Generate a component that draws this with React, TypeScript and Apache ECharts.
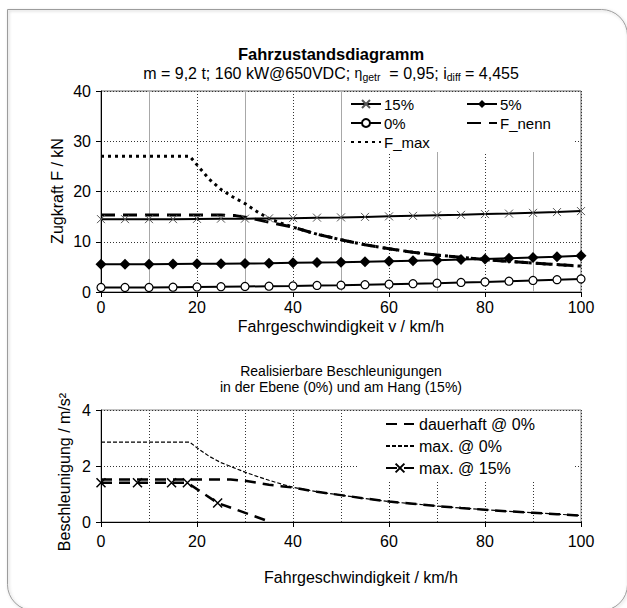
import React, { useEffect, useRef } from "react";
import * as echarts from "echarts";

// ---------- Top chart: Zugkraft (kN) over speed (km/h) ----------
const SPEED = [0, 5, 10, 15, 20, 25, 30, 35, 40, 45, 50, 55, 60, 65, 70, 75, 80, 85, 90, 95, 100];
const F_GRADE15 = [14.5, 14.5, 14.5, 14.5, 14.55, 14.6, 14.6, 14.65, 14.7, 14.8, 14.85, 14.95, 15.05, 15.15, 15.25, 15.35, 15.5, 15.6, 15.75, 15.9, 16.1];
const F_GRADE5 = [5.5, 5.5, 5.5, 5.55, 5.6, 5.6, 5.65, 5.7, 5.8, 5.85, 5.9, 6.0, 6.1, 6.2, 6.3, 6.45, 6.55, 6.7, 6.85, 7.0, 7.2];
const F_GRADE0 = [0.9, 0.9, 0.9, 0.95, 1.0, 1.05, 1.1, 1.15, 1.2, 1.3, 1.35, 1.45, 1.55, 1.65, 1.75, 1.9, 2.0, 2.15, 2.3, 2.45, 2.6];

const F_NENN_V = [0, 5, 10, 15, 20, 25, 28, 30, 32.5, 35, 40, 45, 50, 55, 60, 65, 70, 75, 80, 85, 90, 95, 100];
const F_NENN = [15.3, 15.3, 15.3, 15.3, 15.3, 15.3, 15.2, 14.9, 14.4, 13.9, 12.9, 11.5, 10.4, 9.4, 8.6, 7.9, 7.35, 6.9, 6.45, 6.1, 5.75, 5.45, 5.15];

const F_MAX_V = [0, 5, 10, 15, 18.5, 20, 22.5, 25, 27.5, 30, 32.5, 35, 37.5, 40, 45, 50, 55, 60, 65, 70, 75, 80, 85, 90, 95, 100];
const F_MAX = [27, 27, 27, 27, 27, 25.3, 22.5, 20.4, 18.9, 17.6, 16.0, 14.6, 13.7, 12.9, 11.5, 10.4, 9.4, 8.6, 7.9, 7.35, 6.9, 6.45, 6.1, 5.75, 5.45, 5.15];

// ---------- Bottom chart: Beschleunigung (m/s²) over speed ----------
const DAUER_V = [0, 10, 20, 27, 30, 32.5, 35, 37.5, 40, 45, 50, 55, 60, 65, 70, 75, 80, 85, 90, 95, 100];
const DAUER = [1.52, 1.52, 1.52, 1.52, 1.47, 1.4, 1.33, 1.28, 1.23, 1.08, 0.96, 0.84, 0.73, 0.65, 0.57, 0.5, 0.44, 0.38, 0.33, 0.28, 0.23];

const MAX0_V = [0, 10, 18.5, 20, 22.5, 25, 27.5, 30, 32.5, 35, 37.5, 40, 45, 50, 55, 60, 65, 70, 75, 80, 85, 90, 95, 100];
const MAX0 = [2.85, 2.85, 2.85, 2.65, 2.35, 2.12, 1.95, 1.78, 1.63, 1.49, 1.36, 1.24, 1.08, 0.96, 0.84, 0.73, 0.65, 0.57, 0.5, 0.44, 0.38, 0.33, 0.28, 0.23];

const MAX15_V = [0, 7.6, 14.7, 18, 24.3, 35.3];
const MAX15 = [1.4, 1.4, 1.4, 1.4, 0.68, 0];
const MAX15_MARK = [true, true, true, true, true, false];

// ---------- Texts ----------
const TITLE = "Fahrzustandsdiagramm";
const SUBTITLE = "{n|m = 9,2 t; 160 kW@650VDC; }{e|η}{s|getr}{n|  = 0,95; i}{s|diff}{n| = 4,455}";
const TOP_Y_NAME = "Zugkraft F / kN";
const TOP_X_NAME = "Fahrgeschwindigkeit v / km/h";
const BOT_TITLE = "Realisierbare Beschleunigungen\nin der Ebene (0%) und am Hang (15%)";
const BOT_Y_NAME = "Beschleunigung / m/s²";
const BOT_X_NAME = "Fahrgeschwindigkeit / km/h";

const FONT = "'Liberation Sans', Arial, sans-serif";
const CROSS = "path://M0,0L10,10M10,0L0,10";

const zip = (xs: number[], ys: number[]) => xs.map((x, i) => [x, ys[i]]);
const lineOnly = (name: string) => ({ name, itemStyle: { opacity: 0 } });

function buildOption() {
  const axisLabel = (margin: number) => ({ fontSize: 16, color: "#000", fontFamily: FONT, margin });
  const axisLine = { show: true, onZero: false, lineStyle: { color: "#000", width: 1 } };
  const axisTick = { show: true, inside: false, length: 5, lineStyle: { color: "#000" } };
  const dotted = { show: true, lineStyle: { color: "#333", width: 1, type: [1, 2] as any } };
  const topLegendText = { fontSize: 15, color: "#000", fontFamily: FONT, padding: [0, 0, 0, -2] };

  return {
    animation: false,
    backgroundColor: "#fff",
    grid: [
      { left: 101, top: 91, width: 480, height: 201, show: true, borderColor: "#666", borderWidth: 1, backgroundColor: "transparent" },
      { left: 101, top: 410, width: 480, height: 112, show: true, borderColor: "#888", borderWidth: 1, backgroundColor: "transparent" },
    ],
    xAxis: [
      {
        gridIndex: 0, type: "value", min: 0, max: 100, interval: 20,
        axisLine, axisTick, axisLabel: axisLabel(7),
        splitLine: dotted,
        minorTick: { show: false, splitNumber: 2 },
        minorSplitLine: { show: true, lineStyle: { color: "#a8a8a8", width: 1 } },
      },
      {
        gridIndex: 1, type: "value", min: 0, max: 100, interval: 20,
        axisLine, axisTick, axisLabel: axisLabel(11),
        splitLine: dotted,
        minorTick: { show: false, splitNumber: 2 },
        minorSplitLine: dotted,
      },
    ],
    yAxis: [
      {
        gridIndex: 0, type: "value", min: 0, max: 40, interval: 10,
        axisLine, axisTick, axisLabel: axisLabel(10), splitLine: dotted,
      },
      {
        gridIndex: 1, type: "value", min: 0, max: 4, interval: 2,
        axisLine, axisTick, axisLabel: axisLabel(10), splitLine: dotted,
      },
    ],
    legend: [
      {
        data: ["15%", "0%", lineOnly("F_max")], orient: "vertical", left: 350, top: 96.5, padding: 0,
        itemWidth: 30, itemHeight: 10, itemGap: 4, selectedMode: false, textStyle: topLegendText,
      },
      {
        data: ["5%", lineOnly("F_nenn")], orient: "vertical", left: 466, top: 96.5, padding: 0,
        itemWidth: 30, itemHeight: 10, itemGap: 4, selectedMode: false, textStyle: topLegendText,
      },
      {
        data: [lineOnly("dauerhaft @ 0%"), lineOnly("max. @ 0%"), "max. @ 15%"], orient: "vertical", left: 385, top: 416, padding: 0,
        itemWidth: 28, itemHeight: 11, itemGap: 6, selectedMode: false,
        textStyle: { fontSize: 16, color: "#000", fontFamily: FONT },
      },
    ],
    graphic: {
      elements: [
        {
          type: "rect", silent: true, z: 0,
          shape: { x: 7.5, y: 9.5, width: 620, height: 601, r: [0, 26, 26, 26] },
          style: { fill: "none", stroke: "#9c9c9c", lineWidth: 1, shadowBlur: 3, shadowColor: "rgba(0,0,0,0.25)", shadowOffsetX: 1, shadowOffsetY: 1 },
        },
        { type: "rect", silent: true, z: 1, shape: { x: 345, y: 92, width: 229, height: 60 }, style: { fill: "#fff" } },
        { type: "rect", silent: true, z: 1, shape: { x: 358, y: 411, width: 216, height: 69 }, style: { fill: "#fff" } },
        {
          type: "text", x: 331, y: 54, z: 5,
          style: { text: TITLE, fontSize: 16.5, fontWeight: "bold", fontFamily: FONT, fill: "#000", align: "center", verticalAlign: "middle" },
        },
        {
          type: "text", x: 331, y: 73, z: 5,
          style: {
            text: SUBTITLE, fontFamily: FONT, fill: "#000", align: "center", verticalAlign: "middle",
            rich: {
              n: { fontSize: 16, lineHeight: 19, fontFamily: FONT, fill: "#000" },
              e: { fontSize: 14, lineHeight: 19, fontFamily: FONT, fill: "#000" },
              s: { fontSize: 10.5, lineHeight: 11, padding: [8, 0, 0, 0], fontFamily: FONT, fill: "#000" },
            },
          },
        },
        {
          type: "text", x: 341, y: 379, z: 5,
          style: { text: BOT_TITLE, fontSize: 14, lineHeight: 16, fontFamily: FONT, fill: "#000", align: "center", verticalAlign: "middle" },
        },
        {
          type: "text", x: 57, y: 191, rotation: Math.PI / 2, z: 5,
          style: { text: TOP_Y_NAME, fontSize: 16, fontFamily: FONT, fill: "#000", align: "center", verticalAlign: "middle" },
        },
        {
          type: "text", x: 341, y: 326, z: 5,
          style: { text: TOP_X_NAME, fontSize: 16, fontFamily: FONT, fill: "#000", align: "center", verticalAlign: "middle" },
        },
        {
          type: "text", x: 64, y: 472, rotation: Math.PI / 2, z: 5,
          style: { text: BOT_Y_NAME, fontSize: 16, fontFamily: FONT, fill: "#000", align: "center", verticalAlign: "middle" },
        },
        {
          type: "text", x: 361, y: 577, z: 5,
          style: { text: BOT_X_NAME, fontSize: 16, fontFamily: FONT, fill: "#000", align: "center", verticalAlign: "middle" },
        },
      ],
    },
    series: [
      {
        name: "15%", type: "line", xAxisIndex: 0, yAxisIndex: 0, z: 3,
        data: zip(SPEED, F_GRADE15), symbol: CROSS, symbolSize: 8,
        lineStyle: { color: "#000", width: 2 },
        itemStyle: { color: "#000", borderColor: "#555", borderWidth: 1 },
      },
      {
        name: "5%", type: "line", xAxisIndex: 0, yAxisIndex: 0, z: 3,
        data: zip(SPEED, F_GRADE5), symbol: "diamond", symbolSize: 11,
        lineStyle: { color: "#000", width: 2 },
        itemStyle: { color: "#000", borderColor: "#000", borderWidth: 0 },
      },
      {
        name: "0%", type: "line", xAxisIndex: 0, yAxisIndex: 0, z: 3,
        data: zip(SPEED, F_GRADE0), symbol: "circle", symbolSize: 8,
        lineStyle: { color: "#000", width: 2 },
        itemStyle: { color: "#fff", borderColor: "#000", borderWidth: 1.2 },
      },
      {
        name: "F_nenn", type: "line", xAxisIndex: 0, yAxisIndex: 0, z: 3,
        data: zip(F_NENN_V, F_NENN), symbol: "none",
        lineStyle: { color: "#000", width: 3, type: [14, 8] as any },
        itemStyle: { color: "#000" },
      },
      {
        name: "F_max", type: "line", xAxisIndex: 0, yAxisIndex: 0, z: 3,
        data: zip(F_MAX_V, F_MAX), symbol: "none",
        lineStyle: { color: "#000", width: 3, type: [3, 4] as any },
        itemStyle: { color: "#000" },
      },
      {
        name: "dauerhaft @ 0%", type: "line", xAxisIndex: 1, yAxisIndex: 1, z: 3,
        data: zip(DAUER_V, DAUER), symbol: "none",
        lineStyle: { color: "#000", width: 2.5, type: [11, 7] as any },
        itemStyle: { color: "#000" },
      },
      {
        name: "max. @ 0%", type: "line", xAxisIndex: 1, yAxisIndex: 1, z: 3,
        data: zip(MAX0_V, MAX0), symbol: "none",
        lineStyle: { color: "#000", width: 1.2, type: [4, 2] as any },
        itemStyle: { color: "#000" },
      },
      {
        name: "max. @ 15%", type: "line", xAxisIndex: 1, yAxisIndex: 1, z: 3,
        data: MAX15_V.map((x, i) => (MAX15_MARK[i] ? { value: [x, MAX15[i]] } : { value: [x, MAX15[i]], symbol: "none" })),
        symbol: CROSS, symbolSize: 9,
        lineStyle: { color: "#000", width: 2.5, type: [11, 7] as any },
        itemStyle: { color: "#000", borderColor: "#000", borderWidth: 1.5 },
      },
    ],
  };
}

export default function App() {
  const ref = useRef<HTMLDivElement>(null);
  useEffect(() => {
    if (!ref.current) return;
    const chart = echarts.init(ref.current, null, { renderer: "svg" });
    chart.setOption(buildOption() as any);
    return () => chart.dispose();
  }, []);
  return (
    <div
      ref={ref}
      style={{ position: "fixed", left: 0, top: 0, width: 627, height: 608, background: "#fff" }}
    />
  );
}
